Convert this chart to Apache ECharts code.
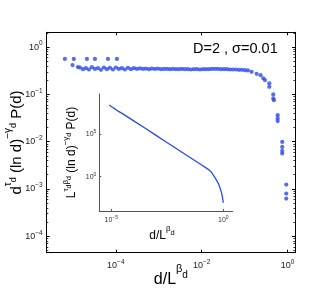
<!DOCTYPE html>
<html><head><meta charset="utf-8">
<script src="https://cdn.jsdelivr.net/npm/echarts@6/dist/echarts.min.js"></script>
<style>html,body{margin:0;padding:0;background:#fff}#c{width:332px;height:294px}</style>
</head><body><div id="c"></div>
<script>
const FONT = 'Liberation Sans, Arial, Helvetica, sans-serif';
const BLUE = '#2a48f2';

// tick labels (log axes)
const mainXTicks = [1e-4, 1e-2, 1];
const mainYTicks = [1e-4, 1e-3, 1e-2, 1e-1, 1];
const insetXTicks = [1e-5, 1];
const insetYTicks = [1, 1e5];
const mainYMinorMantissas = [2, 3, 4, 5, 6, 7, 8, 9];
const mainYMinorDecades = [1e-5, 1e-4, 1e-3, 1e-2, 1e-1, 1];

// main scatter: d/L^beta vs scaled P(d)
const pointsX = [
  6.5e-6, 1.05e-5, 2.12e-5, 3.26e-5, 6.55e-5, 1.06e-4,
  9.8e-6, 1.31e-5,
  1.456e-5, 1.71e-5, 2.009e-5, 2.36e-5, 2.773e-5, 3.258e-5, 3.828e-5, 4.498e-5, 5.27e-5, 6.19e-5,
  7.28e-5, 8.55e-5, 1.005e-4, 1.18e-4, 1.387e-4, 1.629e-4, 1.914e-4, 2.249e-4, 2.642e-4, 3.105e-4,
  3.648e-4, 4.285e-4, 5.02e-4, 5.9e-4, 6.93e-4, 8.15e-4, 9.57e-4, 1.125e-3, 1.321e-3, 1.552e-3,
  1.824e-3, 2.143e-3, 2.518e-3, 2.958e-3, 3.475e-3, 4.083e-3, 4.797e-3, 5.62e-3, 6.61e-3, 7.76e-3,
  9.12e-3, 1.072e-2, 1.259e-2, 1.479e-2, 1.738e-2, 2.042e-2, 2.399e-2, 2.818e-2, 3.311e-2, 3.89e-2,
  4.571e-2, 5.36e-2, 6.3e-2, 7.4e-2, 8.69e-2, 0.1021, 0.1199,
  0.1466, 0.1914, 0.237, 0.273, 0.299, 0.377, 0.377, 0.467, 0.467, 0.484,
  0.591, 0.591, 0.591, 0.756, 0.756, 0.756, 0.756, 0.938, 0.938, 0.938
];
const pointsY = [
  0.56, 0.56, 0.56, 0.56, 0.56, 0.56,
  0.416, 0.377,
  0.37, 0.34, 0.36, 0.335, 0.375, 0.345, 0.36, 0.33, 0.37, 0.34,
  0.365, 0.335, 0.37, 0.345, 0.36, 0.335, 0.365, 0.34, 0.36, 0.345,
  0.355, 0.345, 0.35, 0.34, 0.35, 0.345, 0.35, 0.34, 0.345, 0.345,
  0.34, 0.345, 0.34, 0.34, 0.345, 0.34, 0.34, 0.335, 0.34, 0.34,
  0.335, 0.34, 0.34, 0.34, 0.345, 0.345, 0.345, 0.34, 0.34, 0.34,
  0.335, 0.335, 0.335, 0.33, 0.33, 0.325, 0.32,
  0.300, 0.272, 0.255, 0.218, 0.200, 0.171, 0.1445, 0.0998, 0.0821, 0.0755,
  0.0364, 0.031, 0.0272, 0.0099, 0.00776, 0.00638, 0.00562, 0.00124, 0.000801, 0.000628
];

// inset curve
const insetX = [8.1e-6, 1.0e-5, 1.2e-5, 1.45e-5, 1.58e-5, 2.0e-5, 2.4e-5, 3.16e-5, 1e-4, 3.16e-4, 1e-3, 3.16e-3, 1e-2, 3.16e-2, 0.1, 0.214, 0.29, 0.358, 0.46, 0.598, 0.72, 0.849, 0.93, 1.0];
const insetY = [2.82e8, 1.9e8, 1.45e8, 1.0e8, 8.9e7, 5.3e7, 4.1e7, 2.75e7, 3.8e6, 5.4e5, 7.4e4, 1.02e4, 1.41e3, 200, 27.5, 7.4, 3.6, 1.58, 0.55, 0.167, 0.045, 0.011, 0.0032, 8.6e-4];

const Y_MIN = 4.5e-5, Y_MAX = 2.05;
const mainYMinor = [];
mainYMinorDecades.forEach(d => mainYMinorMantissas.forEach(m => { const v = m * d; if (v > Y_MIN && v < Y_MAX) mainYMinor.push(v); }));

function fmt(v) {
  const e = Math.round(Math.log10(v));
  return '{b|10}{s|' + (e < 0 ? '\u2212' + (-e) : e) + '}';
}
const mainRich = { b: { fontSize: 9, fontFamily: FONT, color: '#222' }, s: { fontSize: 6.5, fontFamily: FONT, color: '#222', padding: [0, 0, 7, 0] } };
const insetRich = { b: { fontSize: 7, fontFamily: FONT, color: '#333' }, s: { fontSize: 5, fontFamily: FONT, color: '#333', padding: [0, 0, 5, 0] } };
const line = { show: true, lineStyle: { color: '#000', width: 1 } };
const minorAxis = pos => ({ type: 'log', gridIndex: 0, position: pos, min: Y_MIN, max: Y_MAX,
  axisLine: { show: false }, axisLabel: { show: false }, splitLine: { show: false },
  axisTick: { inside: true, length: 1.6, customValues: mainYMinor, lineStyle: { color: '#000', width: 0.8 } } });

const chart = echarts.init(document.getElementById('c'), null, { renderer: 'canvas' });
chart.setOption({
  animation: false,
  backgroundColor: '#fff',
  title: { text: 'D=2 , \u03c3=0.01', left: 188, top: 36, textStyle: { fontSize: 14.5, fontWeight: 'normal', fontFamily: FONT, color: '#000' } },
  grid: [
    { left: 46.7, top: 32.3, width: 248.3, height: 220.4, containLabel: false, outerBoundsMode: 'none' },
    { left: 99.3, top: 94, width: 133.4, height: 117, containLabel: false, outerBoundsMode: 'none' }
  ],
  xAxis: [
    { type: 'log', gridIndex: 0, min: 2.45e-6, max: 1.5, axisLine: line,
      axisTick: { inside: true, length: 3, customValues: mainXTicks, lineStyle: { color: '#000' } },
      axisLabel: { customValues: mainXTicks, formatter: fmt, rich: mainRich, margin: 6 },
      splitLine: { show: false },
      name: 'd/L{s|\u03b2}{d|d}', nameLocation: 'middle', nameGap: 11, nameMoveOverlap: false,
      nameTextStyle: { fontSize: 16, fontFamily: FONT, color: '#000',
        rich: { s: { fontSize: 11, fontFamily: FONT, padding: [0, 0, 20, 0] }, d: { fontSize: 10, fontFamily: FONT, padding: [0, 0, 8, 0] } } } },
    { type: 'log', gridIndex: 0, position: 'top', min: 2.45e-6, max: 1.5, axisLine: line,
      axisTick: { inside: true, length: 3, customValues: mainXTicks, lineStyle: { color: '#000' } },
      axisLabel: { show: false }, splitLine: { show: false } },
    { type: 'log', gridIndex: 1, min: 2.91e-6, max: 2.63, axisLine: { show: true, lineStyle: { color: '#555', width: 1 } },
      axisTick: { inside: true, length: 2, customValues: insetXTicks, lineStyle: { color: '#555' } },
      axisLabel: { customValues: insetXTicks, formatter: fmt, rich: insetRich, margin: 4 },
      splitLine: { show: false },
      name: 'd/L{s|\u03b2}{d|d}', nameLocation: 'middle', nameGap: 14, nameMoveOverlap: false,
      nameTextStyle: { fontSize: 12, fontFamily: FONT, color: '#000', padding: [0, 8, 0, 0],
        rich: { s: { fontSize: 8, fontFamily: FONT, padding: [0, 0, 14, 0] }, d: { fontSize: 7.5, fontFamily: FONT, padding: [0, 0, 6, 0] } } } }
  ],
  yAxis: [
    { type: 'log', gridIndex: 0, min: Y_MIN, max: Y_MAX, axisLine: line,
      axisTick: { inside: true, length: 3, customValues: mainYTicks, lineStyle: { color: '#000' } },
      axisLabel: { customValues: mainYTicks, formatter: fmt, rich: mainRich, margin: 4 },
      splitLine: { show: false },
      name: 'd{s|\u03c4}{d|d} (ln d){s|\u2212\u03b3}{d|d} P(d)', nameLocation: 'middle', nameGap: 17, nameMoveOverlap: false,
      nameTextStyle: { fontSize: 15, fontFamily: FONT, color: '#000',
        rich: { s: { fontSize: 10, fontFamily: FONT, padding: [0, 0, 16, 0] }, d: { fontSize: 9, fontFamily: FONT, padding: [0, 0, 6, 0] } } } },
    { type: 'log', gridIndex: 0, position: 'right', min: Y_MIN, max: Y_MAX, axisLine: line,
      axisTick: { inside: true, length: 3, customValues: mainYTicks, lineStyle: { color: '#000' } },
      axisLabel: { show: false }, splitLine: { show: false } },
    { type: 'log', gridIndex: 1, min: 9.1e-5, max: 5.6e9, axisLine: { show: true, lineStyle: { color: '#555', width: 1 } },
      axisTick: { inside: true, length: 2, customValues: insetYTicks, lineStyle: { color: '#555' } },
      axisLabel: { customValues: insetYTicks, formatter: fmt, rich: insetRich, margin: 3 },
      splitLine: { show: false },
      name: 'L{s|\u03c4}{d|d}{s|\u03b2}{d|d} (ln d){s|\u2212\u03b3}{d|d} P(d)', nameLocation: 'middle', nameGap: 17, nameMoveOverlap: false,
      nameTextStyle: { fontSize: 12, fontFamily: FONT, color: '#000',
        rich: { s: { fontSize: 8, fontFamily: FONT, padding: [0, 0, 13, 0] }, d: { fontSize: 7, fontFamily: FONT, padding: [0, 0, 5, 0] } } } },
    minorAxis('left'),
    minorAxis('right')
  ],
  series: [
    { type: 'scatter', xAxisIndex: 0, yAxisIndex: 0, symbol: 'circle', symbolSize: 4.2,
      itemStyle: { color: BLUE }, data: pointsX.map((x, i) => [x, pointsY[i]]) },
    { type: 'line', xAxisIndex: 2, yAxisIndex: 2, showSymbol: false, symbol: 'none',
      lineStyle: { color: BLUE, width: 1.3 }, data: insetX.map((x, i) => [x, insetY[i]]) }
  ]
});
</script></body></html>
